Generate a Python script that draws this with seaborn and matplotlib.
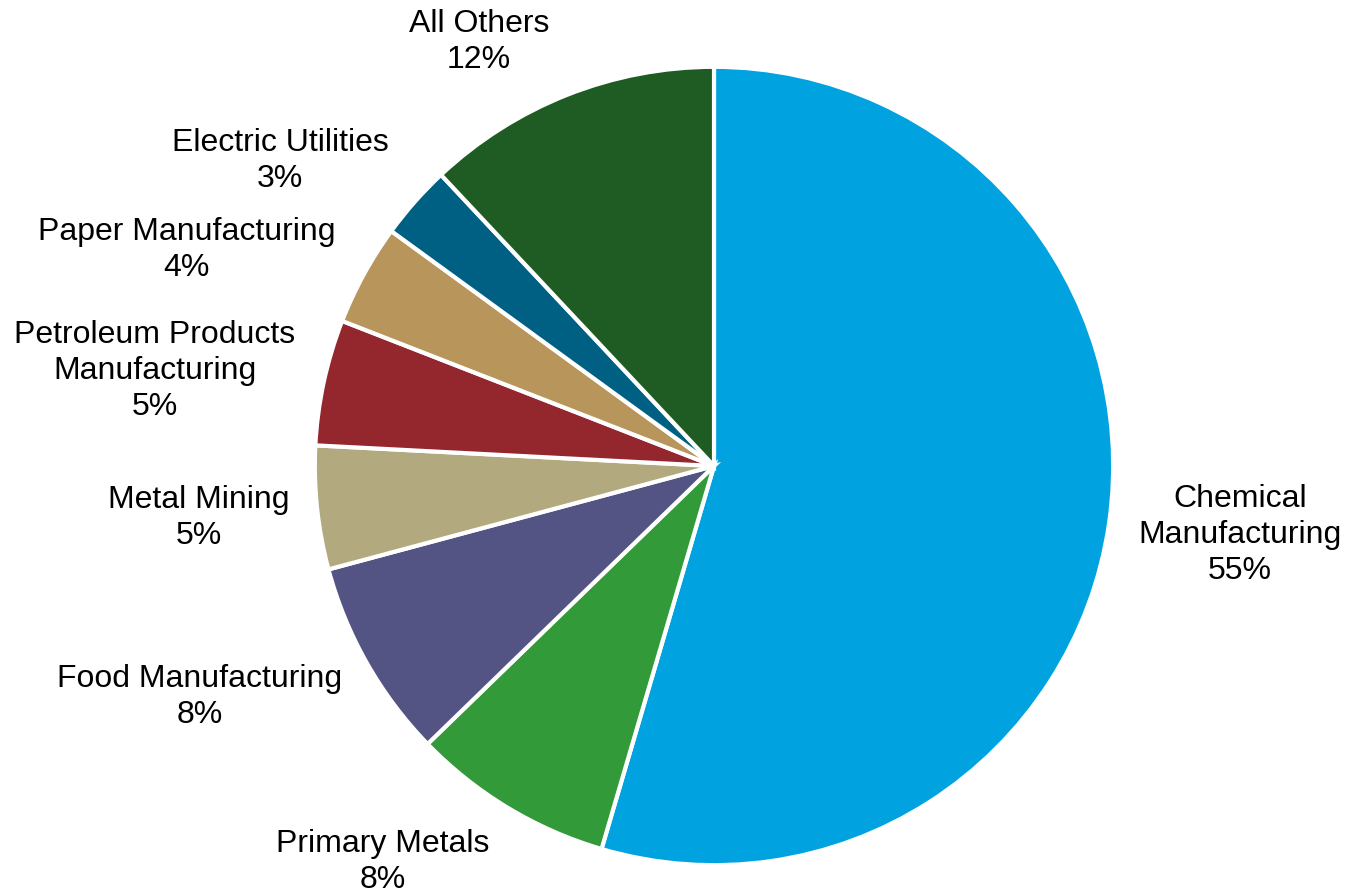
import matplotlib
matplotlib.use("Agg")
import matplotlib.pyplot as plt
import seaborn as sns

sns.set_theme(style="white")
plt.rcParams['font.family'] = ['Liberation Sans', 'DejaVu Sans']

# Data
categories = ["Chemical\nManufacturing", "Primary Metals", "Food Manufacturing",
              "Metal Mining", "Petroleum Products\nManufacturing",
              "Paper Manufacturing", "Electric Utilities", "All Others"]
shares = [54.6, 8.2, 8.1, 5.0, 5.1, 4.1, 3.0, 12.0]
pct_labels = ["55%", "8%", "8%", "5%", "5%", "4%", "3%", "12%"]

# Style
colors = ["#00A3E0", "#339A3A", "#535384", "#B2A97F", "#93272D",
          "#B8955B", "#006084", "#1E5C23"]
# label centers (layout, data units where pie radius = 1)
label_pos = [(1.328, -0.174), (-0.836, -1.0), (-1.298, -0.583), (-1.30, -0.131),
             (-1.412, 0.240), (-1.331, 0.545), (-1.096, 0.770), (-0.593, 1.071)]

fig = plt.figure(figsize=(13.45, 8.94), dpi=100)
ax = fig.add_axes([0, 0, 1, 1])
wedges, _ = ax.pie(shares, colors=colors, startangle=90, counterclock=False,
                   radius=1.008,
                   wedgeprops=dict(edgecolor="white", linewidth=3, joinstyle="miter"))
for cat, pct, (x, y) in zip(categories, pct_labels, label_pos):
    ax.text(x, y, f"{cat}\n{pct}", ha="center", va="center", fontsize=23,
            color="black", linespacing=1.25)

R = 396.0
ax.set_xlim(-714 / R, (1345 - 714) / R)
ax.set_ylim(-(894 - 466) / R, 466 / R)
ax.set_aspect("auto")
ax.axis("off")
fig.savefig("out.png", dpi=100, facecolor="white")
